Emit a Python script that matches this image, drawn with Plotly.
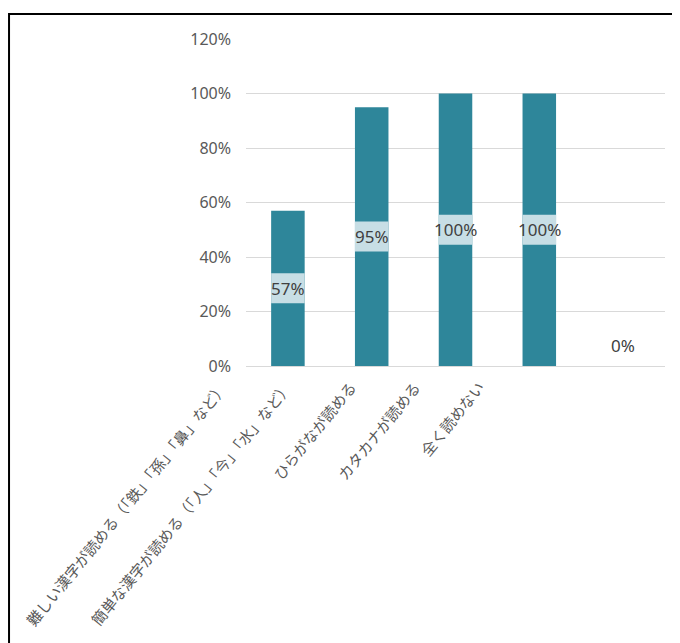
import plotly.graph_objects as go

# 読める文字の割合
categories = [
    "難しい漢字が読める（「鉄」「孫」「鼻」など）",
    "簡単な漢字が読める（「人」「今」「水」など）",
    "ひらがなが読める",
    "カタカナが読める",
    "全く読めない",
]
values = [57, 95, 100, 100, 0]
y_ticks = [0, 20, 40, 60, 80, 100, 120]

BAR_COLOR = "#2e869a"
BOX_COLOR = "#c7dee5"
LABEL_BOX_H = 11  # label background height, in % units

# slanted category labels sit a bit tighter than the bars (paper coords)
CAT_LABEL_X0 = 0.332
CAT_LABEL_DX = 0.0997

fig = go.Figure()

fig.add_trace(go.Bar(
    x=categories,
    y=values,
    marker=dict(color=BAR_COLOR, line=dict(width=0)),
    width=0.4,
    hoverinfo="skip",
))

# light box behind each data label (skip bars with no height)
fig.add_trace(go.Bar(
    x=categories,
    y=[LABEL_BOX_H if v > 0 else 0 for v in values],
    base=[v / 2 - LABEL_BOX_H / 2 if v > 0 else 0 for v in values],
    marker=dict(color=BOX_COLOR, line=dict(width=0)),
    width=0.4,
    hoverinfo="skip",
))

for cat, v in zip(categories, values):
    fig.add_annotation(
        x=cat, y=v / 2 if v > 0 else 0,
        yshift=0 if v > 0 else 21,
        text=f"{v}%", showarrow=False,
        font=dict(size=17, color="#404040"),
    )

for i, cat in enumerate(categories):
    fig.add_annotation(
        xref="paper", yref="paper",
        x=CAT_LABEL_X0 + i * CAT_LABEL_DX, y=0, yshift=-8,
        xanchor="right", yanchor="top",
        text=cat, textangle=-51, showarrow=False,
        font=dict(size=15, color="#595959", family="Noto Sans CJK JP"),
    )

# outer frame
fig.add_shape(
    type="rect", xref="paper", yref="paper",
    x0=-0.017, y0=-0.9, x1=1.05, y1=1.0765,
    line=dict(color="black", width=2),
)

fig.update_layout(
    width=680,
    height=643,
    margin=dict(l=12, r=23, t=31, b=285, autoexpand=False),
    barmode="overlay",
    showlegend=False,
    plot_bgcolor="white",
    paper_bgcolor="white",
    font=dict(family="Noto Sans, Noto Sans CJK JP", color="#595959"),
    xaxis=dict(
        domain=[0.3504, 1],
        showticklabels=False,
        showgrid=False,
        showline=False,
        ticks="",
        automargin=False,
    ),
    yaxis=dict(
        range=[0, 120],
        tickvals=y_ticks,
        ticktext=[f"{t}%" for t in y_ticks],
        tickfont=dict(size=16, color="#595959"),
        gridcolor="#d9d9d9",
        gridwidth=1,
        zeroline=True,
        zerolinecolor="#d9d9d9",
        zerolinewidth=1,
        showline=False,
        ticks="",
        ticklabelstandoff=14,
        automargin=False,
    ),
)

fig.write_html("out.html")
